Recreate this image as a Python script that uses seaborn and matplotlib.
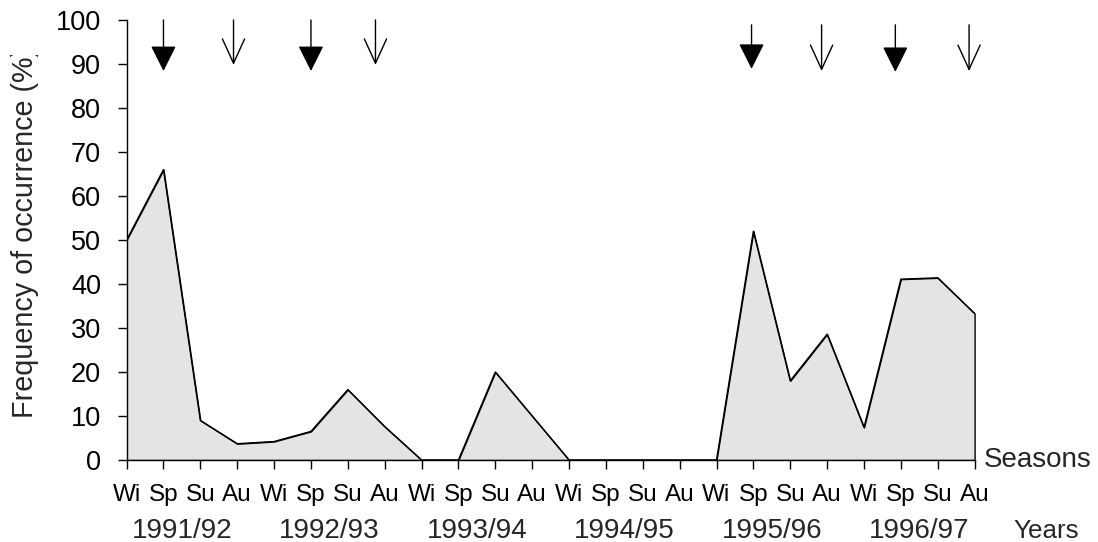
import matplotlib
matplotlib.use("Agg")
import matplotlib.pyplot as plt
from matplotlib.transforms import Bbox, TransformedBbox
import numpy as np
import pandas as pd
import seaborn as sns

# Seasonal frequency of occurrence (%) over six sampling years
seasons = ["Wi", "Sp", "Su", "Au"] * 6
years = ["1991/92", "1992/93", "1993/94", "1994/95", "1995/96", "1996/97"]
frequency = [50, 66, 9, 3.7, 4.2, 6.5, 16, 7.6,
             0, 0, 20, 10, 0, 0, 0, 0,
             0, 52, 18, 28.6, 7.4, 41.1, 41.4, 33.3]

# Event markers above the series (season index, kind)
arrow_pos = [1.0, 2.9, 5.0, 6.75, 16.95, 18.85, 20.85, 22.85]
arrow_kind = ["filled", "open", "filled", "open", "filled", "open", "filled", "open"]
arrow_top = [100, 100, 100, 100, 98.9, 98.9, 98.9, 98.9]
arrow_tip = [88.4, 89.8, 88.4, 89.8, 88.9, 88.4, 88.2, 88.4]

df = pd.DataFrame({"idx": np.arange(len(frequency)), "freq": frequency})

sns.set_style("ticks")
plt.rcParams["font.family"] = ["Liberation Sans", "DejaVu Sans"]

fig = plt.figure(figsize=(10.98, 5.42), dpi=100)
ax = fig.add_axes([126.6 / 1098, 82 / 542, 848 / 1098, 440 / 542])

ax.fill_between(df["idx"], df["freq"], 0, facecolor="#e4e4e4",
                edgecolor="black", linewidth=1.0, zorder=1)
sns.lineplot(data=df, x="idx", y="freq", color="black", linewidth=1.0,
             ax=ax, zorder=2)

for x, kind, top, tip in zip(arrow_pos, arrow_kind, arrow_top, arrow_tip):
    if kind == "filled":
        style = "-|>,head_length=1.6,head_width=0.8"
    else:
        style = "->,head_length=1.75,head_width=0.8"
    ax.annotate("", xy=(x, tip), xytext=(x, top), xycoords="data",
                arrowprops=dict(arrowstyle=style, color="black", lw=1.0,
                                shrinkA=0, shrinkB=0, mutation_scale=10),
                annotation_clip=False)

ax.set_xlim(0, len(frequency) - 1)
ax.set_ylim(0, 100)
ax.set_yticks(np.arange(0, 101, 10))
ax.set_xticks(np.arange(len(seasons)))
ax.set_xticklabels(seasons)
ax.set_xlabel("")
ax.set_ylabel("")

ax.tick_params(axis="y", labelsize=19.5, length=6.5, width=1.0, pad=12,
               color="black", labelcolor="black", direction="out")
ax.tick_params(axis="x", labelsize=17.5, length=6.5, width=1.0, pad=11,
               color="black", labelcolor="black", direction="out")

for side in ["top", "right"]:
    ax.spines[side].set_visible(False)
for side in ["left", "bottom"]:
    ax.spines[side].set_color("black")
    ax.spines[side].set_linewidth(1.0)
ax.grid(False)
ax.set_facecolor("white")

xt = ax.get_xaxis_transform()
for k, yr in enumerate(years):
    ax.text(4 * k + 1.5, -0.1766, yr, transform=xt, ha="center",
            va="baseline", fontsize=20)

ax.text(1.0111, -0.0159, "Seasons", transform=ax.transAxes, ha="left",
        va="baseline", fontsize=20)
ax.text(1.0453, -0.1766, "Years", transform=ax.transAxes, ha="left",
        va="baseline", fontsize=18.7)

ylab = fig.text(33.3 / 1098, (542 - 418) / 542, "Frequency of occurrence (%)",
                rotation=90, rotation_mode="anchor", ha="left", va="baseline",
                fontsize=20.7)
ylab.set_clip_box(TransformedBbox(Bbox([[0, 0], [1, (542 - 55) / 542]]),
                                  fig.transFigure))
ylab.set_clip_on(True)

fig.savefig("out.png", dpi=100, facecolor="white")
